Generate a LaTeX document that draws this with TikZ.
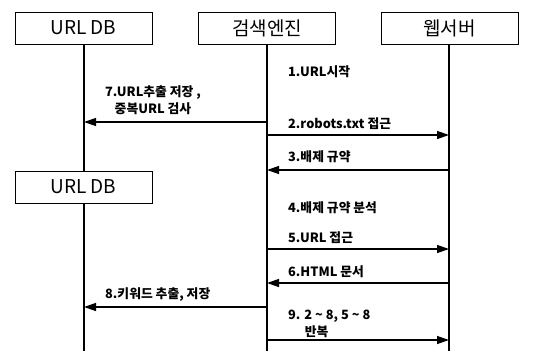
\documentclass[tikz,border=0pt]{standalone}
\usepackage{fontspec}
\setmainfont{Noto Sans CJK KR}
\usetikzlibrary{arrows.meta}
\begin{document}
\begin{tikzpicture}[x=1pt,y=-1pt,
  actor/.style={draw,line width=0.8pt,minimum width=137pt,minimum height=32pt,inner sep=0pt,font=\fontsize{19}{22}\selectfont},
  life/.style={line width=1.4pt},
  msg/.style={line width=1.3pt,-{Triangle[length=12pt,width=8pt]}},
  lbl/.style={anchor=west,inner sep=0pt,font=\bfseries\fontsize{12.8}{17}\selectfont}]
\useasboundingbox (0,0) rectangle (535,351);
% actors
\node[actor] (db)  at (83.5,28) {URL DB};
\node[actor] (se)  at (267,28) {검색엔진};
\node[actor] (ws)  at (449.5,28) {웹서버};
\node[actor] (db2) at (83.5,187) {URL DB};
% lifeline ends
\coordinate (dbE) at (84,351);
\coordinate (seE) at (267,351);
\coordinate (wsE) at (449,351);
\draw[life] (db.south -| dbE) -- (db2.north -| dbE);
\draw[life] (db2.south -| dbE) -- (dbE);
\draw[life] (se.south -| seE) -- (seE);
\draw[life] (ws.south -| wsE) -- (wsE);
% message points
\coordinate (s7) at (267,122); \coordinate (d7) at (84,122);
\coordinate (s2) at (267,135); \coordinate (w2) at (449,135);
\coordinate (s3) at (267,170); \coordinate (w3) at (449,170);
\coordinate (s5) at (267,249); \coordinate (w5) at (449,249);
\coordinate (s6) at (267,283); \coordinate (w6) at (449,283);
\coordinate (s8) at (267,307); \coordinate (d8) at (84,307);
\coordinate (s9) at (267,340); \coordinate (w9) at (449,340);
\draw[msg] (s7) -- (d7);
\draw[msg] (s2) -- (w2);
\draw[msg] (w3) -- (s3);
\draw[msg] (s5) -- (w5);
\draw[msg] (w6) -- (s6);
\draw[msg] (s8) -- (d8);
\draw[msg] (s9) -- (w9);
% labels
\node[lbl] (l1) at (288,72) {1.URL시작};
\node[lbl,anchor=center,align=center] (l7) at (153,100) {7.URL추출 저장 ,\\중복URL 검사};
\node[lbl] (l2) at (288,124) {2.robots.txt 접근};
\node[lbl] (l3) at (288,157) {3.배제 규약};
\node[lbl] (l4) at (288,208) {4.배제 규약 분석};
\node[lbl] (l5) at (288,238) {5.URL 접근};
\node[lbl] (l6) at (288,272) {6.HTML 문서};
\node[lbl] (l8) at (105,295) {8.키워드 추출, 저장};
\node[lbl,align=left] (l9) at (288,323.5) {9. 2 \textasciitilde{} 8, 5 \textasciitilde{} 8\\\hspace*{1.3em}반복};
\end{tikzpicture}
\end{document}
